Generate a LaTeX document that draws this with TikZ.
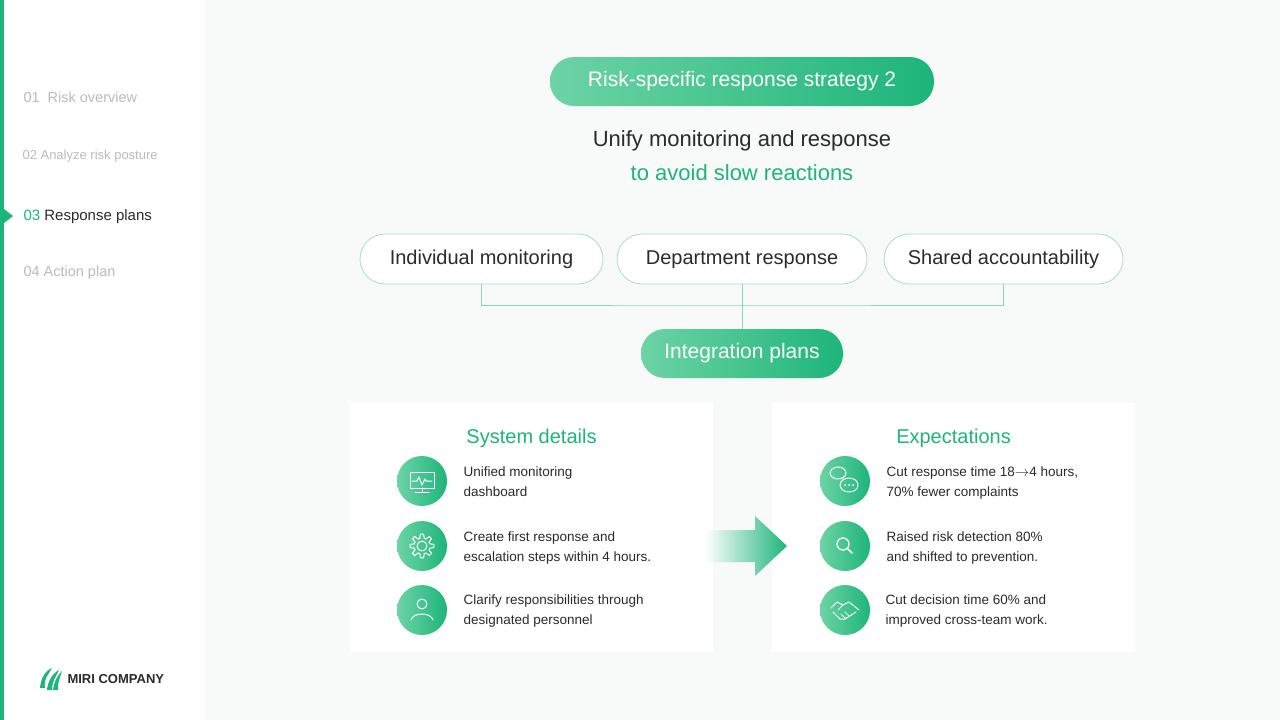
\documentclass[tikz,border=0pt]{standalone}
\usepackage{fontspec}
\setmainfont{Liberation Sans}
\usetikzlibrary{shapes.geometric}
\definecolor{grn}{HTML}{1DB57A}
\definecolor{lgrn}{HTML}{6DD3A6}
\definecolor{dk}{HTML}{2B2B2B}
\definecolor{gry}{HTML}{BBBBBB}
\definecolor{bd}{HTML}{A9DFC6}
\definecolor{bg}{HTML}{F8F9F9}
\begin{document}
\begin{tikzpicture}[x=1pt,y=-1pt,
  pill/.style={rounded corners=24pt,left color=lgrn,right color=grn,draw=none,text=white,text height=1.05em,text depth=0em},
  opill/.style={rounded corners=25pt,fill=white,draw=bd,line width=0.8pt,text=dk,font=\fontsize{20}{24}\selectfont,text height=1.05em,text depth=0em},
  side/.style={anchor=west,text=gry,font=\fontsize{14.5}{16}\selectfont},
  ic/.style={circle,minimum size=50pt,left color=lgrn,right color=grn,draw=none},
  it/.style={anchor=north west,align=left,text=dk,font=\fontsize{13.5}{20}\selectfont},
  wl/.style={draw=white,line width=1pt,line cap=round,line join=round},
  conn/.style={draw=grn!55,line width=0.8pt}]
\useasboundingbox (0,0) rectangle (1280,720);
\fill[bg] (0,0) rectangle (1280,720);
\fill[white] (0,0) rectangle (205,720);
\fill[grn] (0,0) rectangle (4,720);
% sidebar
\node[side] (s1) at (20,97) {01\ \ Risk overview};
\node[side,font=\fontsize{13}{15}\selectfont] (s2) at (19,156) {02 Analyze risk posture};
\node[side,text=dk,font=\fontsize{15}{17}\selectfont] (s3) at (20,217) {\textcolor{grn}{03} Response plans};
\node[side] (s4) at (20,273) {04 Action plan};
\fill[grn] (4,209) -- (13,216) -- (4,223) -- cycle;
% logo
\fill[grn] (40,688) .. controls (41,678) and (45,671) .. (52,668) -- (49,673) .. controls (45,678) and (44,684) .. (45,688) -- cycle;
\fill[grn] (47,690) .. controls (48,681) and (52,674) .. (59,670) -- (56,676) .. controls (53,681) and (52,686) .. (52,690) -- cycle;
\fill[grn] (53,690) .. controls (54,682) and (57,676) .. (62,671) -- (60,677) .. controls (58,682) and (58,686) .. (58,690) -- cycle;
\node[anchor=west,text=dk,font=\bfseries\fontsize{13}{15}\selectfont] (logo) at (64,679) {MIRI COMPANY};
% title
\node[pill,minimum width=384pt,minimum height=49pt,font=\fontsize{21}{25}\selectfont] (title) at (742,81.5) {Risk-specific response strategy 2};
\node[text=dk,font=\fontsize{22}{26}\selectfont] (sub1) at (742,141) {Unify monitoring and response};
\node[text=grn,font=\fontsize{22}{26}\selectfont] (sub2) at (742,173) {to avoid slow reactions};
% three pills
\node[opill,minimum width=243pt,minimum height=50pt] (p1) at (481.5,259) {Individual monitoring};
\node[opill,minimum width=250pt,minimum height=50pt] (p2) at (742,259) {Department response};
\node[opill,minimum width=239pt,minimum height=50pt] (p3) at (1003.5,259) {Shared accountability};
\node[pill,minimum width=202pt,minimum height=49pt,font=\fontsize{21}{25}\selectfont] (ip) at (742,353.5) {Integration plans};
\coordinate (j) at (742,305);
\draw[conn] (p1.south) |- (j) -| (p3.south);
\draw[conn] (p2.south) -- (ip.north);
% cards
\fill[white] (350,403) rectangle (713,652);
\fill[white] (772,403) rectangle (1135,652);
\node[text=grn,font=\fontsize{20}{24}\selectfont] (h1) at (531.5,438) {System details};
\node[text=grn,font=\fontsize{20}{24}\selectfont] (h2) at (953.5,438) {Expectations};
% arrow
\shade[left color=white,right color=grn] (705,530) -- (755,530) -- (755,516) -- (787,546) -- (755,576) -- (755,562) -- (705,562) -- cycle;
% icons
\node[ic] (a1) at (422,481) {};
\node[ic] (a2) at (422,546) {};
\node[ic] (a3) at (422,610) {};
\node[ic] (b1) at (845,481) {};
\node[ic] (b2) at (845,546) {};
\node[ic] (b3) at (845,610) {};
% monitor
\draw[wl] (410,472) rectangle (434,488); \draw[wl] (422,488)--(422,492) (415,492)--(429,492);
\draw[wl] (412,481)--(417,481)--(419,477)--(422,485)--(425,479)--(426,481)--(432,481);
% gear
\draw[wl] (422,546) circle (5);
\draw[wl] plot[domain=0:360,samples=97,smooth cycle] ({422+(10+2*sign(cos(8*\x)))*cos(\x)},{546+(10+2*sign(cos(8*\x)))*sin(\x)});
% person
\draw[wl] (422,604) circle (5);
\draw[wl] (411,620) .. controls (413,612) and (431,612) .. (433,620);
% chat
\draw[wl] (838,473) ellipse (8 and 6);
\draw[wl] (849,485) ellipse (9 and 7);
\fill[white] (845,485) circle (1) (849,485) circle (1) (853,485) circle (1);
% search
\draw[wl,line width=1.3pt] (843,544) circle (6); \draw[wl,line width=1.5pt] (847.5,548.5)--(852,553);
% handshake
\draw[wl] (831,608)--(837,602)--(843,605)--(849,602)--(859,610) (833,612)--(840,619)--(845,619)--(856,612) (843,605)--(838,610) (845,612)--(849,616) (841,614)--(845,618);
% texts
\node[it] (t1) at (460,463) {Unified monitoring\\dashboard};
\node[it] (t2) at (460,528) {Create first response and\\escalation steps within 4 hours.};
\node[it] (t3) at (460,591) {Clarify responsibilities through\\designated personnel};
\node[it] (u1) at (883,463) {Cut response time 18$\rightarrow$4 hours,\\70\% fewer complaints};
\node[it] (u2) at (883,528) {Raised risk detection 80\%\\and shifted to prevention.};
\node[it] (u3) at (882,591) {Cut decision time 60\% and\\improved cross-team work.};
\end{tikzpicture}
\end{document}
